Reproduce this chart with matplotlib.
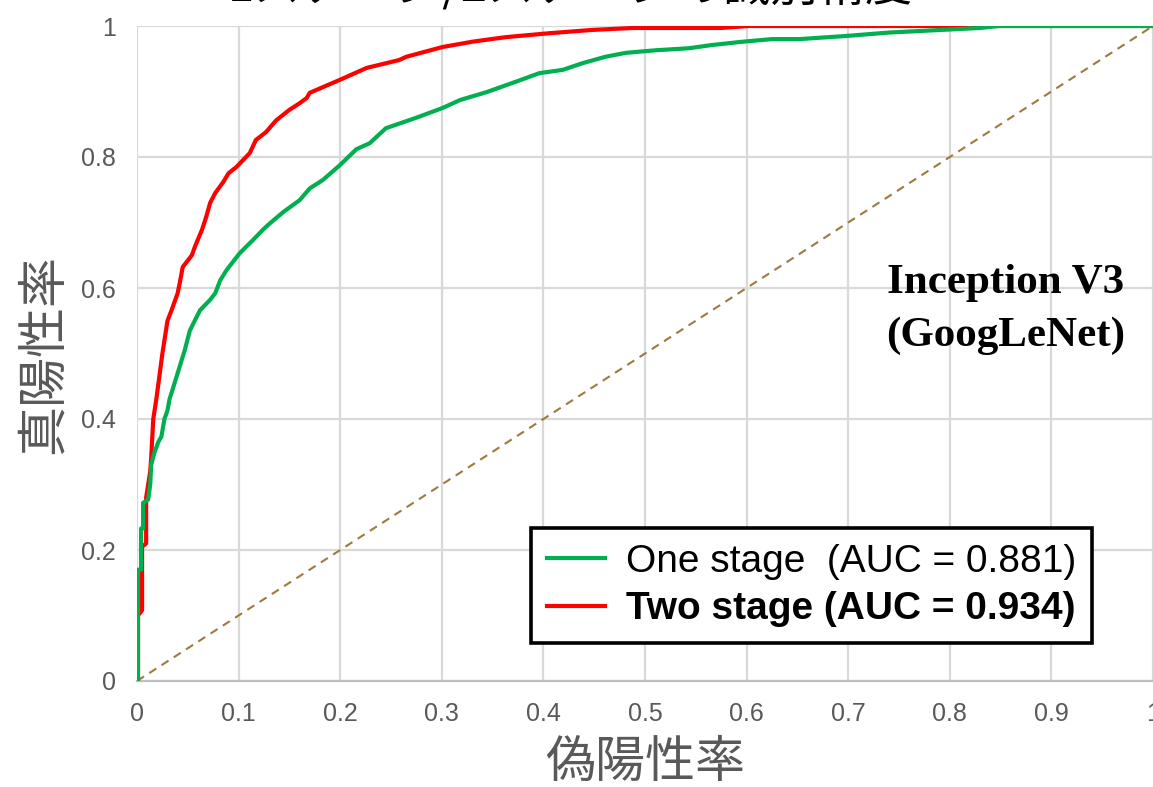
import matplotlib
matplotlib.use("Agg")
import matplotlib.pyplot as plt

# ---- data ----
title = "1ステージ/2ステージの識別精度"
xlabel = "偽陽性率"
ylabel = "真陽性率"
model_text = "Inception V3\n(GoogLeNet)"
label_one = "One stage  (AUC = 0.881)"
label_two = "Two stage (AUC = 0.934)"

x_ticks = [0, 0.1, 0.2, 0.3, 0.4, 0.5, 0.6, 0.7, 0.8, 0.9, 1.0]
x_ticklabels = ["0", "0.1", "0.2", "0.3", "0.4", "0.5", "0.6", "0.7", "0.8", "0.9", "1"]
y_ticks = [0, 0.2, 0.4, 0.6, 0.8, 1.0]
y_ticklabels = ["0", "0.2", "0.4", "0.6", "0.8", "1"]

two_fpr = [0, 0.001, 0.001, 0.005, 0.005, 0.009, 0.009, 0.013, 0.014, 0.016, 0.019,
           0.025, 0.030, 0.034, 0.040, 0.042, 0.045, 0.054, 0.057, 0.064, 0.068,
           0.072, 0.077, 0.085, 0.090, 0.098, 0.111, 0.117, 0.127, 0.137, 0.150,
           0.160, 0.167, 0.170, 0.200, 0.226, 0.258, 0.265, 0.301, 0.330, 0.363,
           0.406, 0.448, 0.488, 0.575, 0.602, 1.0]
two_tpr = [0, 0.0, 0.10, 0.108, 0.205, 0.21, 0.28, 0.32, 0.342, 0.40, 0.43,
           0.50, 0.55, 0.566, 0.592, 0.607, 0.632, 0.65, 0.663, 0.689, 0.708,
           0.73, 0.745, 0.762, 0.775, 0.785, 0.806, 0.826, 0.838, 0.856, 0.872,
           0.882, 0.89, 0.898, 0.918, 0.936, 0.948, 0.953, 0.968, 0.976, 0.983,
           0.989, 0.994, 0.997, 0.997, 1.0, 1.0]

one_fpr = [0, 0.001, 0.001, 0.004, 0.004, 0.006, 0.006, 0.011, 0.013, 0.014, 0.017,
           0.021, 0.024, 0.027, 0.030, 0.032, 0.047, 0.052, 0.062, 0.072, 0.077,
           0.082, 0.088, 0.096, 0.101, 0.114, 0.124, 0.131, 0.144, 0.160, 0.170,
           0.183, 0.200, 0.216, 0.229, 0.245, 0.275, 0.301, 0.318, 0.344, 0.373,
           0.396, 0.419, 0.438, 0.461, 0.481, 0.511, 0.543, 0.566, 0.596, 0.625,
           0.652, 0.700, 0.740, 0.830, 0.848, 1.0]
one_tpr = [0, 0.0, 0.17, 0.17, 0.233, 0.233, 0.272, 0.277, 0.30, 0.33, 0.348,
           0.365, 0.373, 0.40, 0.413, 0.43, 0.505, 0.535, 0.566, 0.582, 0.592,
           0.612, 0.627, 0.643, 0.653, 0.673, 0.689, 0.699, 0.716, 0.734, 0.752,
           0.765, 0.788, 0.812, 0.821, 0.844, 0.860, 0.875, 0.887, 0.899, 0.915,
           0.928, 0.933, 0.943, 0.953, 0.959, 0.963, 0.966, 0.971, 0.976, 0.98,
           0.98, 0.985, 0.99, 0.997, 1.0, 1.0]

diag = [0, 1]

# ---- fonts ----
cjk = ["Noto Sans CJK JP", "DejaVu Sans"]
plt.rcParams["font.family"] = ["Liberation Sans", "DejaVu Sans"]

fig = plt.figure(figsize=(11.53, 7.87), dpi=100)
ax = fig.add_axes([137 / 1153, 1 - 681 / 787, 1 - 137 / 1153, (681 - 26) / 787])

ax.plot(diag, diag, color="#9e7a3e", lw=1.5, ls=(0, (4, 3)), zorder=2)
ax.plot(two_fpr, two_tpr, color="#ff0000", lw=3, label=label_two, zorder=3)
ax.plot(one_fpr, one_tpr, color="#00b050", lw=3, label=label_one, zorder=4)

ax.set_xlim(0, 1)
ax.set_ylim(0, 1)
ax.set_xticks(x_ticks)
ax.set_xticklabels(x_ticklabels)
ax.set_yticks(y_ticks)
ax.set_yticklabels(y_ticklabels)
ax.tick_params(length=0, labelsize=18, colors="#595959")
ax.tick_params(axis="x", pad=15)
ax.tick_params(axis="y", pad=15)
ax.grid(True, color="#d9d9d9", lw=1.6)
ax.set_axisbelow(True)
for s in ["top", "right", "left"]:
    ax.spines[s].set_visible(False)
ax.spines["bottom"].set_color("#bfbfbf")
ax.spines["bottom"].set_linewidth(1.6)

ax.set_xlabel(xlabel, family=cjk, fontsize=36, color="#595959", labelpad=8)
ax.set_ylabel(ylabel, family=cjk, fontsize=36, color="#595959", labelpad=8)

fig.text(0.495, 1 - 2 / 787, title, family=cjk, fontsize=34, color="black",
         ha="center", va="baseline")

ax.text(0.855, 0.567, model_text, transform=ax.transAxes, ha="center", va="center",
        family=["Liberation Serif"], fontweight="bold", fontsize=31,
        linespacing=1.5, color="black")

handles, labels = ax.get_legend_handles_labels()
leg = ax.legend([handles[1], handles[0]], [labels[1], labels[0]],
                loc="lower left", bbox_to_anchor=(0.388, 0.058),
                borderaxespad=0, fontsize=28, handlelength=1.5,
                handletextpad=0.55, labelspacing=0.3, borderpad=0.4,
                fancybox=False, framealpha=1, edgecolor="black")
leg.get_frame().set_linewidth(2.6)
leg.get_texts()[1].set_fontweight("bold")
for t in leg.get_texts():
    t.set_color("black")

fig.savefig("out.png", dpi=100)
